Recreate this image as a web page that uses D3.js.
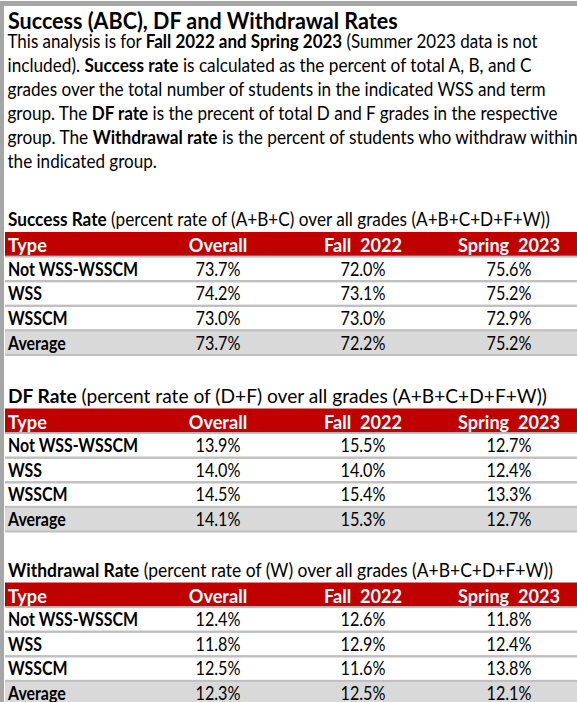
<!DOCTYPE html>
<html>
<head>
<meta charset="utf-8">
<script src="https://cdn.jsdelivr.net/npm/d3@7"></script>
<style>
html,body{margin:0;padding:0;background:#fff;}
svg{display:block;}
text{white-space:pre;}
</style>
</head>
<body>
<div id="chart"></div>
<script>
// ---------- data ----------
const titleText = "Success (ABC), DF and Withdrawal Rates";
const introLines = [
  [["This analysis is for ",false],["Fall 2022 and Spring 2023",true],[" (Summer 2023 data is not",false]],
  [["included). ",false],["Success rate",true],[" is calculated as the percent of total A, B, and C",false]],
  [["grades over the total number of students in the indicated WSS and term",false]],
  [["group. The ",false],["DF rate",true],[" is the precent of total D and F grades in the respective",false]],
  [["group. The ",false],["Withdrawal rate",true],[" is the percent of students who withdraw within",false]],
  [["the indicated group.",false]]
];
const columns = ["Type", "Overall", "Fall  2022", "Spring  2023"];
const types = ["Not WSS-WSSCM", "WSS", "WSSCM", "Average"];

const successTitle = ["Success Rate", " (percent rate of (A+B+C) over all grades (A+B+C+D+F+W))"];
const successOverall = [73.7, 74.2, 73.0, 73.7];
const successFall    = [72.0, 73.1, 73.0, 72.2];
const successSpring  = [75.6, 75.2, 72.9, 75.2];

const dfTitle = ["DF Rate", " (percent rate of (D+F) over all grades (A+B+C+D+F+W))"];
const dfOverall = [13.9, 14.0, 14.5, 14.1];
const dfFall    = [15.5, 14.0, 15.4, 15.3];
const dfSpring  = [12.7, 12.4, 13.3, 12.7];

const wTitle = ["Withdrawal Rate", " (percent rate of (W) over all grades (A+B+C+D+F+W))"];
const wOverall = [12.4, 11.8, 12.5, 12.3];
const wFall    = [12.6, 12.9, 11.6, 12.5];
const wSpring  = [11.8, 12.4, 13.8, 12.1];

// ---------- layout ----------
const W = 577, H = 702;
const FONT = "Lato, 'Open Sans', 'DejaVu Sans', sans-serif";
const RED = "#c00000", LINE = "#bfbfbf", AVG = "#d9d9d9", FRAME = "#a6a6a6";

const svg = d3.select("#chart").append("svg").attr("width", W).attr("height", H)
  .style("font-family", FONT);

svg.append("rect").attr("x",0).attr("y",0).attr("width",W).attr("height",H).attr("fill","#fff");
// frame
svg.append("rect").attr("x",0).attr("y",1).attr("width",W).attr("height",5).attr("fill",FRAME);
svg.append("rect").attr("x",0).attr("y",1).attr("width",4).attr("height",H).attr("fill",FRAME);

function fit(t, x, y, target) {
  const w = t.node().getComputedTextLength();
  const k = target / w;
  t.attr("x",0).attr("y",0).attr("transform", `translate(${x},${y}) scale(${k},1)`);
  return k;
}
function richText(parts, x, y, size, right) {
  const t = svg.append("text").attr("font-size", size).attr("fill", "#000");
  parts.forEach(([s,b]) => t.append("tspan").attr("font-weight", b ? 700 : 400).text(s));
  fit(t, x, y, right - x);
  return t;
}
function measure(str, size, weight) {
  const t = svg.append("text").attr("font-size", size).attr("font-weight", weight).text(str);
  const w = t.node().getComputedTextLength();
  t.remove();
  return w;
}

// title
richText([[titleText,true]], 8, 29, 23.5, 398);

// intro paragraph
const introRight = [538, 532, 546, 558, 578, 157];
const lineY = d3.scaleLinear().domain([0,1]).range([48, 72]);
introLines.forEach((parts,i) => richText(parts, 7.5, lineY(i), 19, introRight[i]));

// column positions
const x = d3.scaleOrdinal().domain(columns).range([8, 218, 363, 509]);

const TS = 19;
const kHead = 102 / measure("Spring  2023", TS, 700);
const kLab = 130 / measure("Not WSS-WSSCM", TS, 700);
const kVal = 45 / measure("73.7%", TS, 400);

function table(top, titleParts, titleRight, overall, fall, spring) {
  richText([[titleParts[0],true],[titleParts[1],false]], 8, top - 6, 19, titleRight);
  const y = d3.scaleBand().domain(["__header", ...types]).range([top, top + 5*24.6]).padding(0);
  const rows = types.map((t,i) => ({type:t, vals:[overall[i], fall[i], spring[i]]}));
  const g = svg.append("g");
  // header
  g.append("rect").attr("x",5).attr("y",y("__header")).attr("width",W-5).attr("height",y.bandwidth()).attr("fill",RED);
  columns.forEach((c,j) => {
    g.append("text").attr("font-size",TS).attr("font-weight",700).attr("fill","#fff")
      .attr("text-anchor", j===0 ? "start" : "middle").text(c)
      .attr("transform",`translate(${x(c)},${y("__header")+y.bandwidth()-4.5}) scale(${kHead},1)`);
  });
  // rows
  rows.forEach(r => {
    const y0 = y(r.type), bh = y.bandwidth();
    if (r.type === "Average") g.append("rect").attr("x",5).attr("y",y0).attr("width",W-5).attr("height",bh).attr("fill",AVG);
    g.append("rect").attr("x",5).attr("y",y0-1).attr("width",W-5).attr("height",2).attr("fill",LINE);
    g.append("rect").attr("x",5).attr("y",y0+bh-1).attr("width",W-5).attr("height",2).attr("fill",LINE);
    g.append("text").attr("font-size",TS).attr("font-weight",700).attr("fill","#000").text(r.type)
      .attr("transform",`translate(8,${y0+bh-5.5}) scale(${kLab},1)`);
    r.vals.forEach((v,j) => {
      g.append("text").attr("font-size",TS).attr("fill","#000").attr("text-anchor","middle")
        .text(d3.format(".1f")(v) + "%")
        .attr("transform",`translate(${x(columns[j+1])},${y0+bh-5.5}) scale(${kVal},1)`);
    });
  });
}

table(232, successTitle, 550, successOverall, successFall, successSpring);
table(408.5, dfTitle, 547, dfOverall, dfFall, dfSpring);
table(582.5, wTitle, 553, wOverall, wFall, wSpring);
</script>
</body>
</html>
